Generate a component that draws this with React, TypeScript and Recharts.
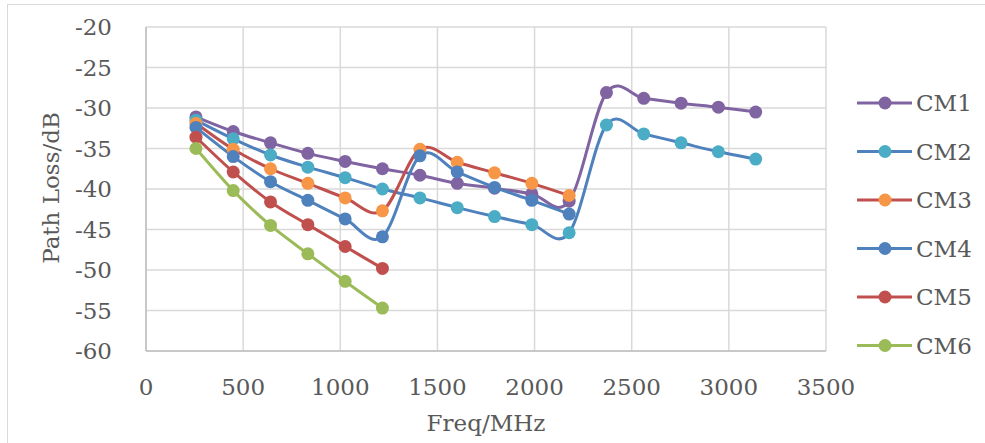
import { LineChart, Line, XAxis, YAxis, CartesianGrid } from "recharts";

// measurement frequencies (MHz)
const freqs = [257, 449, 641, 833, 1025, 1217, 1410, 1602, 1794, 1986, 2178, 2370, 2562, 2754, 2946, 3138];

// path loss per channel model (dB)
const cm1 = [-31.1, -32.9, -34.3, -35.6, -36.6, -37.5, -38.3, -39.3, -39.9, -40.6, -41.5, -28.1, -28.8, -29.4, -29.9, -30.5];
const cm2 = [-31.5, -33.8, -35.8, -37.3, -38.6, -40.0, -41.1, -42.3, -43.4, -44.4, -45.4, -32.1, -33.2, -34.3, -35.4, -36.3];
const cm3 = [-31.9, -35.1, -37.5, -39.3, -41.1, -42.7, -35.1, -36.7, -38.0, -39.3, -40.8];
const cm4 = [-32.4, -36.0, -39.1, -41.4, -43.7, -45.9, -35.9, -37.9, -39.8, -41.4, -43.1];
const cm5 = [-33.6, -37.9, -41.6, -44.4, -47.1, -49.8];
const cm6 = [-35.0, -40.2, -44.5, -48.0, -51.4, -54.7];

const xTicks = [0, 500, 1000, 1500, 2000, 2500, 3000, 3500];
const yTicks = [-60, -55, -50, -45, -40, -35, -30, -25, -20];

const series = [
  { key: "CM1", values: cm1, line: "#8064A2", dot: "#8064A2" },
  { key: "CM2", values: cm2, line: "#4F81BD", dot: "#4BACC6" },
  { key: "CM3", values: cm3, line: "#C0504D", dot: "#F79646" },
  { key: "CM4", values: cm4, line: "#4F81BD", dot: "#4F81BD" },
  { key: "CM5", values: cm5, line: "#C0504D", dot: "#C0504D" },
  { key: "CM6", values: cm6, line: "#9BBB59", dot: "#9BBB59" },
];

const data = freqs.map((f, i) => {
  const row: any = { freq: f };
  series.forEach((s) => {
    row[s.key] = s.values[i] ?? null;
  });
  return row;
});

const FONT = "'DejaVu Serif', serif";
const TEXT = "#595959";
const FS = 23;

// Excel-like smoothed line (Catmull-Rom bezier)
const smoothCurve = (context: any) => {
  let pts: number[][] = [];
  return {
    areaStart() {},
    areaEnd() {},
    lineStart() {
      pts = [];
    },
    point(x: number, y: number) {
      pts.push([+x, +y]);
    },
    lineEnd() {
      if (!pts.length) return;
      context.moveTo(pts[0][0], pts[0][1]);
      for (let i = 0; i < pts.length - 1; i++) {
        const p0 = pts[i - 1] || pts[i];
        const p1 = pts[i];
        const p2 = pts[i + 1];
        const p3 = pts[i + 2] || p2;
        context.bezierCurveTo(
          p1[0] + (p2[0] - p0[0]) / 6,
          p1[1] + (p2[1] - p0[1]) / 6,
          p2[0] - (p3[0] - p1[0]) / 6,
          p2[1] - (p3[1] - p1[1]) / 6,
          p2[0],
          p2[1]
        );
      }
    },
  };
};

const makeDot = (color: string) => (p: any) => {
  if (p.value == null || p.cy == null) return <g key={p.key} />;
  return <circle key={p.key} cx={p.cx} cy={p.cy} r={6.5} fill={color} stroke="none" />;
};

const ChartLegend = () => (
  <svg width={135} height={300} style={{ position: "absolute", left: 850, top: 85 }}>
    {series.map((s, i) => {
      const y = 18 + i * 48.5;
      return (
        <g key={s.key}>
          <line x1={7} x2={62} y1={y} y2={y} stroke={s.line} strokeWidth={3} />
          <circle cx={35} cy={y} r={6.5} fill={s.dot} />
          <text x={66} y={y + 8} fontFamily={FONT} fontSize={FS} fill={TEXT}>
            {s.key}
          </text>
        </g>
      );
    })}
  </svg>
);

export default function App() {
  return (
    <div style={{ position: "relative", width: 985, height: 443, background: "#fff", overflow: "hidden" }}>
      <style>{`body{margin:0}`}</style>
      <div
        style={{
          position: "absolute",
          left: 7,
          top: 4,
          width: 1000,
          height: 460,
          border: "1.5px solid #D9D9D9",
          pointerEvents: "none",
        }}
      />
      <LineChart width={985} height={443} data={data} margin={{ top: 27, right: 159, bottom: 0, left: 0 }}>
        <CartesianGrid stroke="#D9D9D9" strokeWidth={1.5} />
        <XAxis
          dataKey="freq"
          type="number"
          domain={[0, 3500]}
          ticks={xTicks}
          height={92}
          tickSize={0}
          tickMargin={28}
          stroke="#BFBFBF"
          strokeWidth={1.5}
          tick={{ fill: TEXT, fontFamily: FONT, fontSize: FS }}
          label={{
            content: () => (
              <text x={486} y={431} textAnchor="middle" fontFamily={FONT} fontSize={FS} fill={TEXT}>
                Freq/MHz
              </text>
            ),
          }}
        />
        <YAxis
          type="number"
          domain={[-60, -20]}
          ticks={yTicks}
          width={146}
          tickSize={0}
          tickMargin={34}
          stroke="#BFBFBF"
          strokeWidth={1.5}
          tick={{ fill: TEXT, fontFamily: FONT, fontSize: FS }}
          label={{
            content: () => (
              <text
                x={59}
                y={188}
                transform="rotate(-90 59 188)"
                textAnchor="middle"
                fontFamily={FONT}
                fontSize={FS}
                fill={TEXT}
              >
                Path Loss/dB
              </text>
            ),
          }}
        />
        {series.map((s) => (
          <Line
            key={s.key}
            dataKey={s.key}
            type={smoothCurve as any}
            stroke={s.line}
            strokeWidth={3}
            dot={makeDot(s.dot)}
            activeDot={false}
            isAnimationActive={false}
          />
        ))}
      </LineChart>
      <ChartLegend />
    </div>
  );
}
